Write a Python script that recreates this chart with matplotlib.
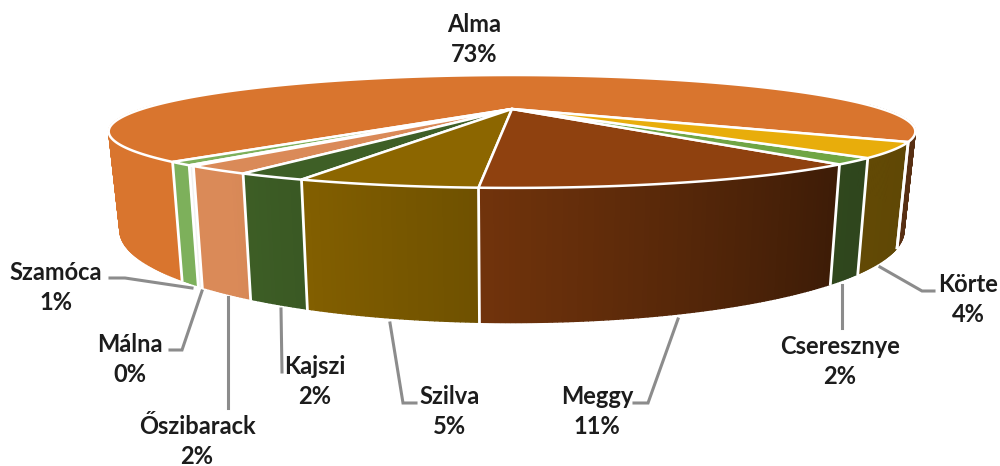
import numpy as np
import matplotlib
matplotlib.use("Agg")
import matplotlib.pyplot as plt
from matplotlib.colors import to_rgb
from matplotlib.patches import Polygon

# slices in drawing order, going round from the Alma / Korte seam
fruits = ["Alma", "Szamóca", "Málna", "Őszibarack", "Kajszi", "Szilva", "Meggy", "Cseresznye", "Körte"]
shares = [73.2, 0.86, 0.2, 2.08, 2.0, 4.95, 11.2, 1.6, 3.9]
pct_labels = ["73%", "1%", "0%", "2%", "2%", "5%", "11%", "2%", "4%"]
top_colors = ["#D9752E", "#7DB05B", "#F0F0F0", "#DA8A58", "#3E5F26", "#8C6600", "#8F410F", "#6FA544", "#E8AD0B"]
label_x = [474, 56, 130, 197, 315, 450, 597, 840, 968]
label_y = [25, 272, 345, 426, 366, 397, 396, 346, 284]

# grey leader lines, one per label (Alma has none)
leaders = {
    "Szamóca": [(110, 278), (125, 278), (192, 288)],
    "Málna": [(170, 350), (182, 350), (202, 291)],
    "Őszibarack": [(228, 297), (228, 408)],
    "Kajszi": [(281, 309), (282, 372)],
    "Szilva": [(390, 323), (403, 403), (416, 403)],
    "Meggy": [(678, 319), (648, 403), (634, 403)],
    "Cseresznye": [(842, 285), (842, 328)],
    "Körte": [(880, 267), (922, 291), (934, 291)],
}

# fake 3D: perspective view of a disc, fitted to the picture in pixels
CX, APEX_Y = 512, 109
RADIUS, PERSP, FLAT = 370, 0.398, 47.5
START_ANGLE = 57


def top_xy(theta):
    # theta in degrees, 0 = towards the viewer, positive = to the right
    u = np.sin(np.radians(theta))
    v = np.cos(np.radians(theta))
    w = 1 - PERSP * v
    return CX + RADIUS * u / w, APEX_Y + FLAT * v / w


def bottom_xy(theta):
    x, y = top_xy(theta)
    return CX + 0.972 * (x - CX), 326 + 1.63 * (y - 190)


def side_shade(theta):
    # the wall gets darker towards the right
    u = np.sin(np.radians(theta))
    return np.interp(u, [-1, -0.5, -0.05, 0.6, 1], [1, 1, 0.79, 0.43, 0.40])


shares_arr = np.array(shares)
edges = START_ANGLE + np.concatenate([[0], np.cumsum(shares_arr)]) / shares_arr.sum() * 360

plt.rcParams["font.family"] = ["Lato", "DejaVu Sans"]
fig = plt.figure(figsize=(10, 4.66), dpi=100)
ax = fig.add_axes([0, 0, 1, 1])
ax.set_xlim(0, 1000)
ax.set_ylim(466, 0)
ax.axis("off")

# leader lines go under the pie
for name, pts in leaders.items():
    xs, ys = zip(*pts)
    ax.plot(xs, ys, color="#8C8C8C", lw=2.2, solid_joinstyle="miter", zorder=1)

# outer wall, only the part facing the viewer
for i, color in enumerate(top_colors):
    steps = np.arange(edges[i], edges[i + 1] + 0.5, 0.5)
    steps[-1] = edges[i + 1]
    for a0, a1 in zip(steps[:-1], steps[1:]):
        mid = (a0 + a1) / 2
        if np.cos(np.radians(mid)) < -0.1:
            continue
        shade = side_shade(mid)
        rgb = np.array(to_rgb(color)) * shade
        x0, y0 = top_xy(a0)
        x1, y1 = top_xy(a1)
        x2, y2 = bottom_xy(a1)
        x3, y3 = bottom_xy(a0)
        ax.add_patch(Polygon([(x0, y0), (x1, y1), (x2, y2), (x3, y3)], closed=True,
                             facecolor=rgb, edgecolor=rgb, lw=1.0, zorder=2))

# white seams on the wall
for a in edges:
    if np.cos(np.radians(a)) > 0.1:
        x0, y0 = top_xy(a)
        x1, y1 = bottom_xy(a)
        ax.plot([x0, x1], [y0, y1], color="white", lw=2.0, zorder=3)

# top face
for i, color in enumerate(top_colors):
    angles = np.linspace(edges[i], edges[i + 1], max(3, int(edges[i + 1] - edges[i]) * 2))
    xs, ys = top_xy(angles)
    pts = [(CX, APEX_Y)] + list(zip(xs, ys))
    ax.add_patch(Polygon(pts, closed=True, facecolor=color, edgecolor="white", lw=1.8,
                         joinstyle="round", zorder=4))

for name, pct, x, y in zip(fruits, pct_labels, label_x, label_y):
    ax.text(x, y, name, ha="center", va="center", fontsize=17, fontweight="bold", color="#1C1C1C", zorder=5)
    ax.text(x, y + 30, pct, ha="center", va="center", fontsize=17, fontweight="bold", color="#1C1C1C", zorder=5)

plt.savefig("out.png", dpi=100)
plt.close()
